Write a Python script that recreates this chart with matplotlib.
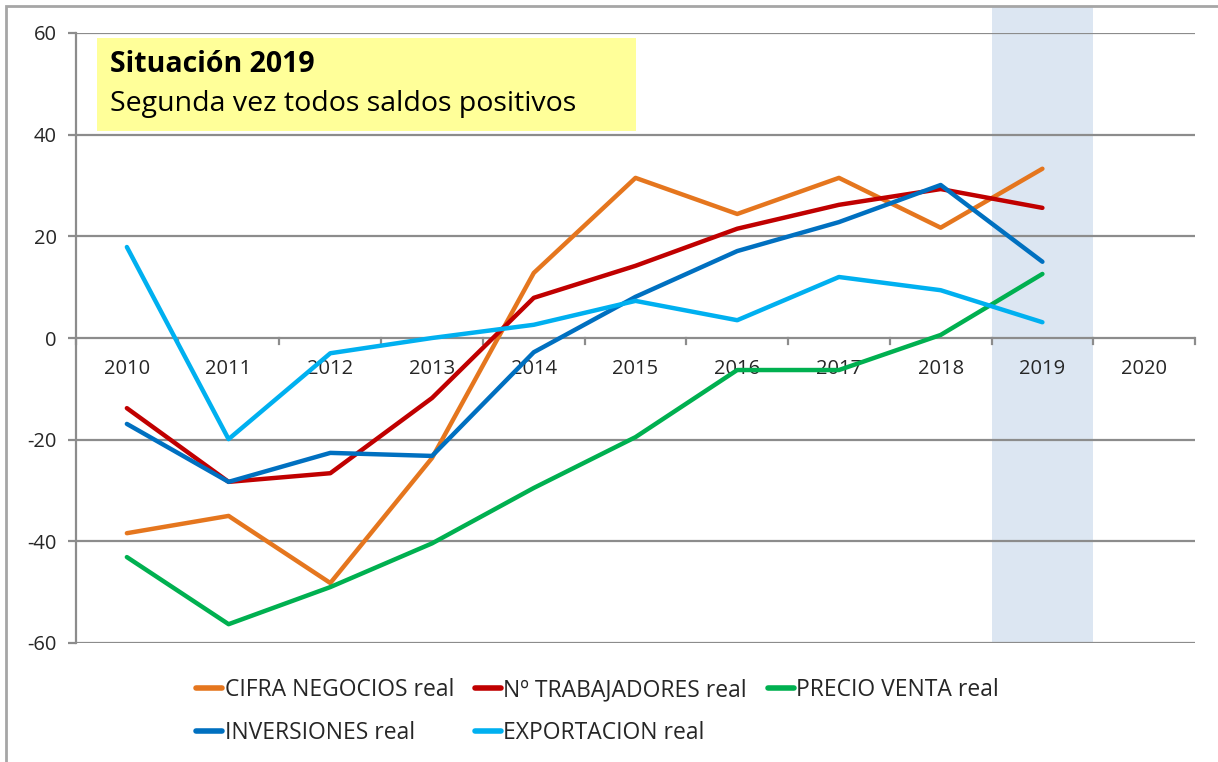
import matplotlib
matplotlib.use("Agg")
import matplotlib.pyplot as plt
from matplotlib.patches import Rectangle
from matplotlib.lines import Line2D

years = ["2010", "2011", "2012", "2013", "2014", "2015", "2016", "2017", "2018", "2019", "2020"]
cifra_negocios = [-38.4, -35.0, -48.2, -23.6, 12.8, 31.5, 24.4, 31.5, 21.7, 33.3]
trabajadores = [-13.8, -28.3, -26.6, -11.8, 7.9, 14.2, 21.5, 26.2, 29.3, 25.6]
precio_venta = [-43.1, -56.3, -49.0, -40.4, -29.5, -19.5, -6.3, -6.3, 0.6, 12.6]
inversiones = [-16.9, -28.3, -22.6, -23.2, -2.8, 8.1, 17.1, 22.8, 30.1, 15.0]
exportacion = [17.9, -19.9, -3.0, 0.0, 2.6, 7.3, 3.5, 12.0, 9.4, 3.1]
series_names = ["CIFRA NEGOCIOS real", "Nº TRABAJADORES real", "PRECIO VENTA real",
                "INVERSIONES real", "EXPORTACION real"]
y_ticks = [-60, -40, -20, 0, 20, 40, 60]
highlight_year = "2019"
box_title = "Situación 2019"
box_text = "Segunda vez todos saldos positivos"

colors = ["#E5761E", "#C00000", "#00B050", "#0070C0", "#00B0F0"]
series = [cifra_negocios, trabajadores, precio_venta, inversiones, exportacion]

plt.rcParams['font.family'] = ['Open Sans', 'DejaVu Sans']

W, H = 1218, 762
fig = plt.figure(figsize=(W / 100, H / 100), dpi=100)
L, R, T, B = 76, 1195, 33, 643
ax = fig.add_axes([L / W, 1 - B / H, (R - L) / W, (B - T) / H])

# outer chart frame
fig.patches.append(Rectangle((6 / W, -0.05), 1.2, 1 - 6 / H + 0.05, transform=fig.transFigure,
                             fill=False, edgecolor="#A6A6A6", linewidth=2, zorder=0))

n = len(years)
ax.set_xlim(-0.5, n - 0.5)
ax.set_ylim(-60, 60)

# highlight band for 2019
hi = years.index(highlight_year)
ymax_ext = (B - 6) / (B - T)
ax.axvspan(hi - 0.5, hi + 0.5, ymin=0, ymax=ymax_ext, color="#DCE6F2", clip_on=False, zorder=0, lw=0)

# gridlines
for yv in y_ticks:
    ax.axhline(yv, color="#8C8C8C", lw=1.6, zorder=1)

# category axis at y=0 with boundary ticks
for b in range(n + 1):
    ax.plot([b - 0.5, b - 0.5], [0, -1.2], color="#8C8C8C", lw=1.6, zorder=1, clip_on=False)
for i, yr in enumerate(years):
    ax.text(i, -6.0, yr, ha="center", va="center", fontsize=14.5, color="#262626", zorder=2)

for vals, c, name in zip(series, colors, series_names):
    ax.plot(range(len(vals)), vals, color=c, lw=3.2, solid_capstyle="round", zorder=3, label=name)

for s in ["top", "right", "bottom"]:
    ax.spines[s].set_visible(False)
ax.spines["left"].set_color("#8C8C8C")
ax.spines["left"].set_linewidth(1.6)
ax.set_xticks([])
ax.set_yticks(y_ticks)
ax.set_yticklabels([str(v) for v in y_ticks])
ax.tick_params(axis="y", length=6, width=1.6, color="#8C8C8C", labelsize=14.5, labelcolor="#262626", pad=8)
ax.set_facecolor("none")

# yellow annotation box
bx0, by0, bx1, by1 = 97, 38, 636, 131
fig.patches.append(Rectangle((bx0 / W, 1 - by1 / H), (bx1 - bx0) / W, (by1 - by0) / H,
                             transform=fig.transFigure, facecolor="#FFFF99", edgecolor="none", zorder=5))
fig.text(110 / W, 1 - 65 / H, box_title, fontsize=20.5, fontweight="bold", va="center", ha="left", zorder=6)
fig.text(110 / W, 1 - 104 / H, box_text, fontsize=20.5, va="center", ha="left", zorder=6)

# legend filled row-wise: column-major order for matplotlib
order = [0, 3, 1, 4, 2]
handles = [Line2D([0], [0], color=colors[i], lw=4, solid_capstyle="round") for i in order]
labels = [series_names[i] for i in order]
leg = fig.legend(handles, labels, ncol=3, loc="upper left",
                 bbox_to_anchor=(196 / W, 1 - 678 / H), frameon=False,
                 fontsize=16.5, handlelength=1.15, handletextpad=0.1, columnspacing=0.9,
                 labelspacing=0.85, borderaxespad=0, borderpad=0)
for t in leg.get_texts():
    t.set_color("#262626")

fig.savefig("out.png", dpi=100)
